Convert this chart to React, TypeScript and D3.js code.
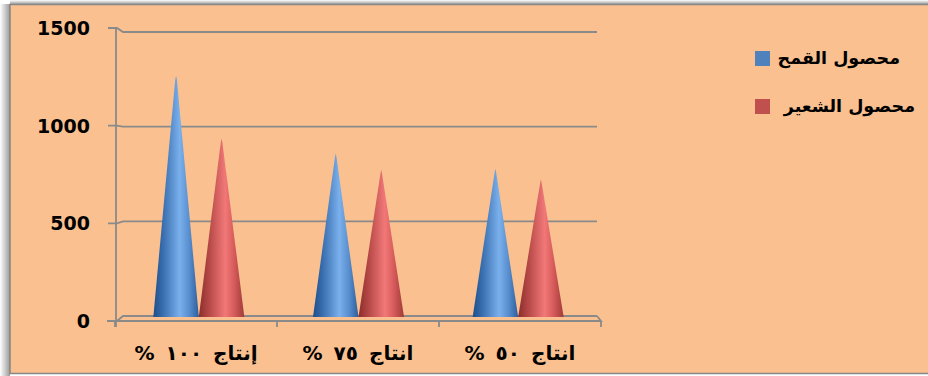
import * as d3 from "d3";

const categories = ["إنتاج ١٠٠ %", "انتاج ٧٥ %", "انتاج ٥٠ %"];
const seriesNames = ["محصول القمح", "محصول الشعير"];
const wheat = [1270, 860, 780];
const barley = [940, 775, 725];
const yTicks = [0, 500, 1000, 1500];

const W = 928;
const H = 376;
const font = "'DejaVu Sans', sans-serif";

const blueStops = ["#1f4e88", "#3a6fb0", "#7ab0ec", "#5a8fd0", "#2d5e9c"];
const redStops = ["#8c2e2d", "#b44846", "#f27878", "#d65a5a", "#9e3b39"];
const stopOffsets = ["0%", "22%", "58%", "78%", "100%"];

const App = () => {
  // front plane (axis ticks/labels) and back plane (grid, cones)
  const yFront = d3.scaleLinear().domain([0, 1500]).range([321, 28]);
  const yBack = d3.scaleLinear().domain([0, 1500]).range([316, 32]);
  const yCone = d3.scaleLinear().domain([0, 1500]).range([317, 32]);

  const xFront = d3.scaleBand<string>().domain(categories).range([115, 601]);
  const xBack = d3
    .scaleBand<string>()
    .domain(categories)
    .range([119, 598])
    .paddingInner(0.43)
    .paddingOuter(0.215);
  const xSeries = d3.scaleBand<number>().domain([0, 1]).range([0, xBack.bandwidth()]);

  const series = [wheat, barley];
  const grey = "#8a8a8a";

  return (
    <svg
      width={W}
      height={H}
      style={{ position: "absolute", left: 0, top: 0, display: "block" }}
    >
      <defs>
        <linearGradient id="shadowL" x1="0" x2="1" y1="0" y2="0">
          <stop offset="0%" stopColor="#ffffff" />
          <stop offset="100%" stopColor="#9a9a9a" />
        </linearGradient>
        <linearGradient id="shadowT" x1="0" x2="0" y1="0" y2="1">
          <stop offset="0%" stopColor="#ffffff" />
          <stop offset="100%" stopColor="#a0a0a0" />
        </linearGradient>
        {[blueStops, redStops].map((stops, i) => (
          <linearGradient key={i} id={`cone${i}`} x1="0" x2="1" y1="0" y2="0">
            {stops.map((c, j) => (
              <stop key={j} offset={stopOffsets[j]} stopColor={c} />
            ))}
          </linearGradient>
        ))}
      </defs>

      <rect x={0} y={0} width={W} height={H} fill="#ffffff" />
      <rect x={0} y={4} width={10} height={H} fill="url(#shadowL)" />
      <rect x={10} y={0} width={W} height={4} fill="url(#shadowT)" />
      <rect
        x={10}
        y={4.5}
        width={W + 10}
        height={369}
        fill="#fac090"
        stroke="#878787"
        strokeWidth={1.5}
      />

      {/* gridlines */}
      {yTicks.map((t) => (
        <g key={t}>
          <path
            d={`M108,${yFront(t)} L117,${yFront(t)} L123,${yBack(t)} L597,${yBack(t)}`}
            fill="none"
            stroke={grey}
            strokeWidth={1.8}
          />
          <text
            x={90}
            y={yFront(t)}
            dy="0.36em"
            textAnchor="end"
            fontFamily={font}
            fontWeight="bold"
            fontSize={19}
            fill="#000"
          >
            {t}
          </text>
        </g>
      ))}

      {/* floor */}
      <path
        d={`M107,${yFront(0)} L601,${yFront(0)} L597,${yBack(0)}`}
        fill="none"
        stroke={grey}
        strokeWidth={1.8}
      />
      <line x1={116} x2={116} y1={yFront(1500)} y2={327} stroke={grey} strokeWidth={1.8} />
      {[...categories.map((c) => xFront(c)!), 601].map((x, i) => (
        <line key={i} x1={x} x2={x} y1={yFront(0)} y2={327} stroke={grey} strokeWidth={1.8} />
      ))}

      {/* cones */}
      {categories.map((c, ci) =>
        series.map((vals, si) => {
          const x0 = xBack(c)! + xSeries(si)!;
          const w = xSeries.bandwidth();
          const base = yCone(0);
          const tip = yCone(vals[ci]);
          return (
            <path
              key={`${ci}-${si}`}
              d={`M${x0},${base} L${x0 + w / 2 - 0.8},${tip + 4} L${x0 + w / 2},${tip} L${x0 + w / 2 + 0.8},${tip + 4} L${x0 + w},${base} Z`}
              fill={`url(#cone${si})`}
            />
          );
        })
      )}

      {/* category labels */}
      {categories.map((c) => (
        <text
          key={c}
          x={xFront(c)! + xFront.bandwidth() / 2}
          y={360}
          textAnchor="middle"
          direction="rtl"
          fontFamily={font}
          fontWeight="bold"
          fontSize={20}
          wordSpacing={4}
          fill="#000"
        >
          {c}
        </text>
      ))}

      {/* legend */}
      {seriesNames.map((n, i) => (
        <g key={n}>
          <rect
            x={755}
            y={51 + i * 48}
            width={15}
            height={15}
            fill={i === 0 ? "#4f81bd" : "#c0504d"}
          />
          <text
            x={i === 0 ? 900 : 915}
            y={64 + i * 48}
            textAnchor="start"
            direction="rtl"
            fontFamily={font}
            fontWeight="bold"
            fontSize={17.5}
            fill="#000"
          >
            {n}
          </text>
        </g>
      ))}
    </svg>
  );
};

export default App;
